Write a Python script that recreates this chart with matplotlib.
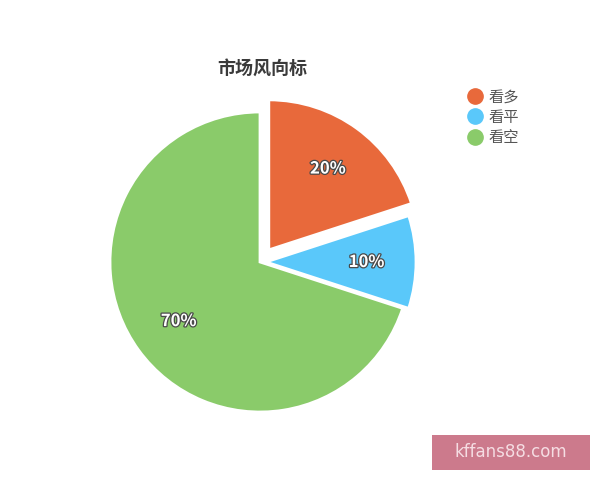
import matplotlib
matplotlib.use("Agg")
import matplotlib.pyplot as plt
import matplotlib.patheffects as pe
from matplotlib.lines import Line2D
from matplotlib.patches import Rectangle

plt.rcParams["font.family"] = ["Noto Sans CJK SC", "DejaVu Sans"]

# 数据
labels = ["看多", "看平", "看空"]
values = [20, 10, 70]
colors = ["#E8693B", "#5AC8FA", "#8ACB6A"]
explode = [0.1, 0.04, 0]

fig = plt.figure(figsize=(6, 4.8), dpi=100)
ax = fig.add_axes([50 / 600, 8 / 480, 420 / 600, 420 / 480])

wedges, texts, autotexts = ax.pie(
    values,
    colors=colors,
    explode=explode,
    startangle=90,
    counterclock=False,
    autopct="%d%%",
    pctdistance=0.67,
    wedgeprops=dict(edgecolor="white", linewidth=2),
)
for t in autotexts:
    t.set_color("white")
    t.set_fontsize(12)
    t.set_fontweight("bold")
    t.set_path_effects([pe.withStroke(linewidth=1.8, foreground="#4a4a4a")])

ax.set_xlim(-1.4, 1.4)
ax.set_ylim(-1.4, 1.4)
ax.set_aspect("equal")
ax.axis("off")

fig.text(262 / 600, 1 - 68 / 480, "市场风向标", ha="center", va="center",
         fontsize=13, color="#3a3a3a", fontweight="semibold")

handles = [Line2D([0], [0], marker="o", linestyle="", markersize=11,
                  markerfacecolor=c, markeredgecolor=c) for c in colors]
fig.legend(handles, labels, loc="upper left", bbox_to_anchor=(452 / 600, 1 - 75 / 480),
           frameon=False, fontsize=11, handletextpad=0.3, labelspacing=0.2,
           labelcolor="#555555", handlelength=1.2)

# 水印
fig.patches.append(Rectangle((432 / 600, 1 - 470 / 480), 158 / 600, 35 / 480,
                             transform=fig.transFigure, facecolor="#CC7A8C",
                             edgecolor="none"))
fig.text(511 / 600, 1 - 452 / 480, "kffans88.com", ha="center", va="center",
         fontsize=12, color="#F5DDE3", family="DejaVu Sans")

fig.savefig("out.png", dpi=100)
